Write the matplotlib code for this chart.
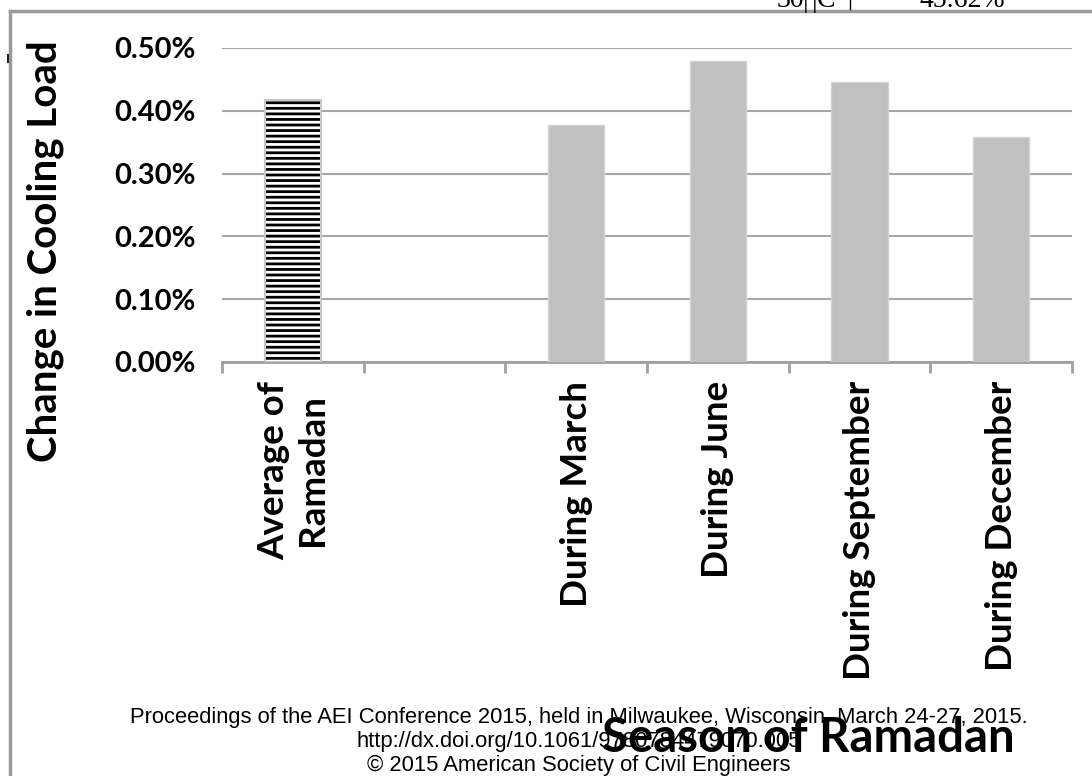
import matplotlib.pyplot as plt
from matplotlib.ticker import FuncFormatter

# Change in cooling load (%) for each Ramadan season
categories = ['Average of\nRamadan', '', 'During March', 'During June',
              'During September', 'During December']
values = [0.417, None, 0.377, 0.479, 0.446, 0.358]
avg_idx = 0

plt.rcParams['font.family'] = ['Lato', 'DejaVu Sans']
plt.rcParams['hatch.linewidth'] = 2.0

fig = plt.figure(figsize=(10.92, 7.76), dpi=100)
W, H = 1092, 776
ax = fig.add_axes([222 / W, 1 - 362 / H, 850 / W, 314 / H])

x = list(range(len(categories)))
bar_w = 0.4

# hatched average bar, drawn with a light outline on top
ax.bar(x[avg_idx], values[avg_idx], bar_w, color='white', edgecolor='black',
       hatch='---', linewidth=0, zorder=3)
ax.bar(x[avg_idx], values[avg_idx], bar_w, fill=False, edgecolor='#c8c8c8',
       linewidth=1.5, zorder=4)

# monthly bars
mx = [i for i, v in enumerate(values) if v is not None and i != avg_idx]
mv = [values[i] for i in mx]
ax.bar(mx, mv, bar_w, color='#c0c0c0', edgecolor='#d4d4d4', linewidth=1,
       zorder=3)

ax.set_xlim(-0.5, len(categories) - 0.5)
ax.set_ylim(0, 0.5)
ax.set_yticks([0, 0.1, 0.2, 0.3, 0.4, 0.5])
ax.yaxis.set_major_formatter(FuncFormatter(lambda v, p: f'{v:.2f}%'))
ax.grid(axis='y', color='#a6a6a6', linewidth=1.5, zorder=0)
ax.set_axisbelow(True)

for s in ['top', 'right', 'left']:
    ax.spines[s].set_visible(False)
ax.spines['bottom'].set_color('#a0a0a0')
ax.spines['bottom'].set_linewidth(2)

ax.tick_params(axis='y', length=0, pad=19, labelsize=21)
for lab in ax.get_yticklabels():
    lab.set_fontweight('bold')

# category boundaries as tick marks under the axis
ax.set_xticks([i - 0.5 for i in range(len(categories) + 1)])
ax.set_xticklabels([])
ax.tick_params(axis='x', direction='out', length=8, width=2, color='#a0a0a0')
for i, c in enumerate(categories):
    if c:
        ax.text(i, -0.03, c, rotation=90, ha='center', va='top',
                fontsize=26.5, fontweight='bold', multialignment='center',
                transform=ax.transData, linespacing=1.2)

fig.text(45 / W, 1 - 251 / H, 'Change in Cooling Load', rotation=90,
         ha='center', va='center', fontsize=29, fontweight='bold')
fig.text(808 / W, 1 - 738 / H, 'Season of Ramadan', ha='center',
         va='center', fontsize=34, fontweight='bold')

# page frame lines
fig.add_artist(plt.Line2D([10 / W, 1], [1 - 11 / H, 1 - 11 / H],
                          color='#9a9a9a', linewidth=2.5))
fig.add_artist(plt.Line2D([10 / W, 10 / W], [0, 1 - 11 / H],
                          color='#9a9a9a', linewidth=2.5))
fig.add_artist(plt.Line2D([8 / W, 8 / W], [1 - 55 / H, 1 - 62 / H],
                          color='#222222', linewidth=1.5))

# table fragment from the previous section, cut off at the top edge
for tx, t in [(790, '30'), (806, '|'), (815, '|'), (826, 'C'), (962, '45.62%')]:
    fig.text(tx / W, 1 - 7 / H, t, ha='center', va='baseline',
             fontsize=20, family='Liberation Serif')
fig.add_artist(plt.Line2D([850 / W, 850 / W], [1 - 9 / H, 1],
                          color='black', linewidth=1))

# publication footer
footer = ['Proceedings of the AEI Conference 2015, held in Milwaukee, '
          'Wisconsin, March 24-27, 2015.',
          'http://dx.doi.org/10.1061/9780784479070.005',
          '\u00a9 2015 American Society of Civil Engineers']
for k, line in enumerate(footer):
    fig.text(579 / W, 1 - (718 + 23.5 * k) / H, line, ha='center',
             va='center', fontsize=15.8, family='Liberation Sans')

fig.savefig('out.png', dpi=100)
